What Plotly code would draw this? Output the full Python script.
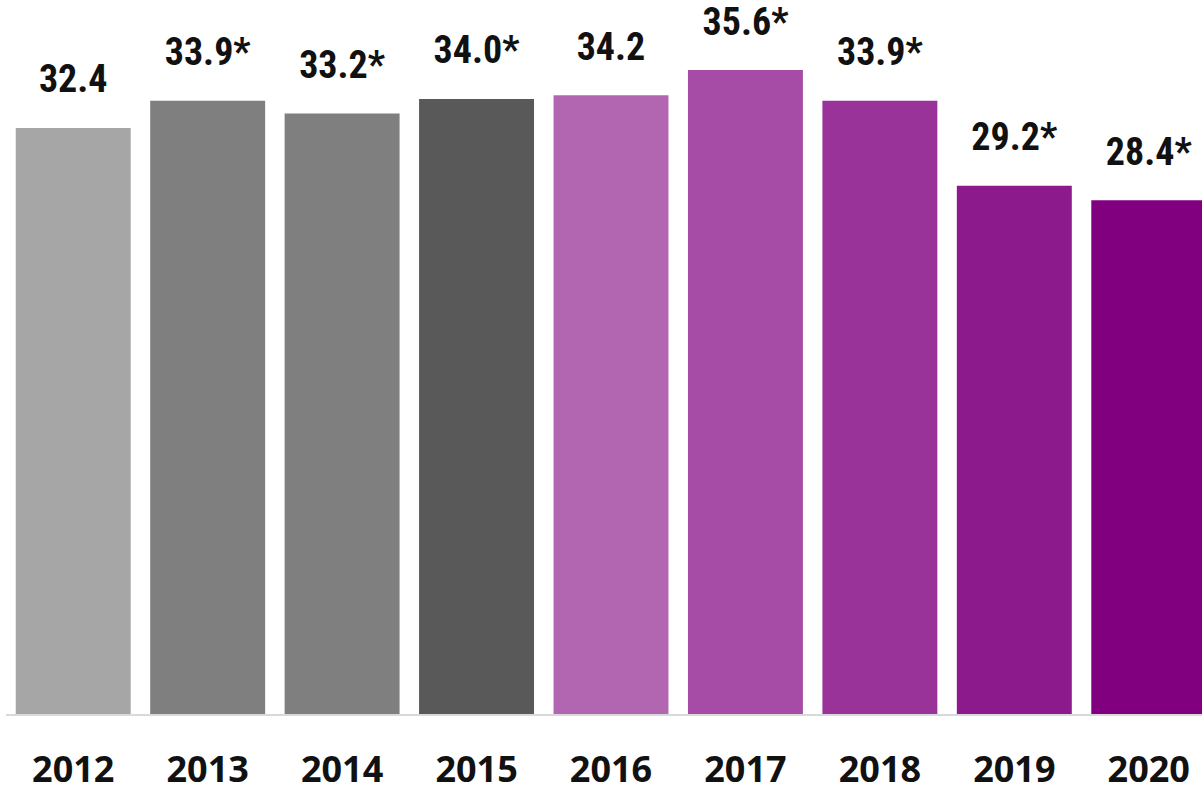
import plotly.graph_objects as go

years = ["2012", "2013", "2014", "2015", "2016", "2017", "2018", "2019", "2020"]
values = [32.4, 33.9, 33.2, 34.0, 34.2, 35.6, 33.9, 29.2, 28.4]
labels = ["32.4", "33.9*", "33.2*", "34.0*", "34.2", "35.6*", "33.9*", "29.2*", "28.4*"]
colors = ["#a6a6a6", "#7f7f7f", "#7f7f7f", "#595959",
          "#b266b2", "#a64ca6", "#993399", "#8c1a8c", "#800080"]

fig = go.Figure()
fig.add_trace(go.Bar(x=years, y=values, marker_color=colors, marker_line_width=0))

# value labels: invisible marker pushes the text up above the bar
fig.add_trace(go.Scatter(
    x=years, y=values, text=labels, mode="markers+text", textposition="top center",
    marker=dict(size=40, opacity=0), cliponaxis=False, hoverinfo="skip",
    textfont=dict(family="Liberation Sans Narrow, Arial Narrow, Roboto Condensed, sans-serif",
                  size=38, color="#111111", weight="bold"),
))

fig.update_layout(
    width=1202, height=786,
    margin=dict(l=6, r=0, t=0, b=72),
    paper_bgcolor="white", plot_bgcolor="white",
    bargap=0.145,
    showlegend=False,
    xaxis=dict(
        type="category", range=[-0.5, 8.396], automargin=False,
        showline=True, linecolor="#d9d9d9", linewidth=2,
        showgrid=False, ticks="", ticklabelstandoff=23,
        tickfont=dict(family="Open Sans, sans-serif", size=36, color="#111111", weight="bold"),
    ),
    yaxis=dict(range=[0, 39.47], visible=False, showgrid=False, automargin=False),
)

fig.write_html("out.html", config={"displayModeBar": False},
               post_script="document.body.style.margin='0';")
